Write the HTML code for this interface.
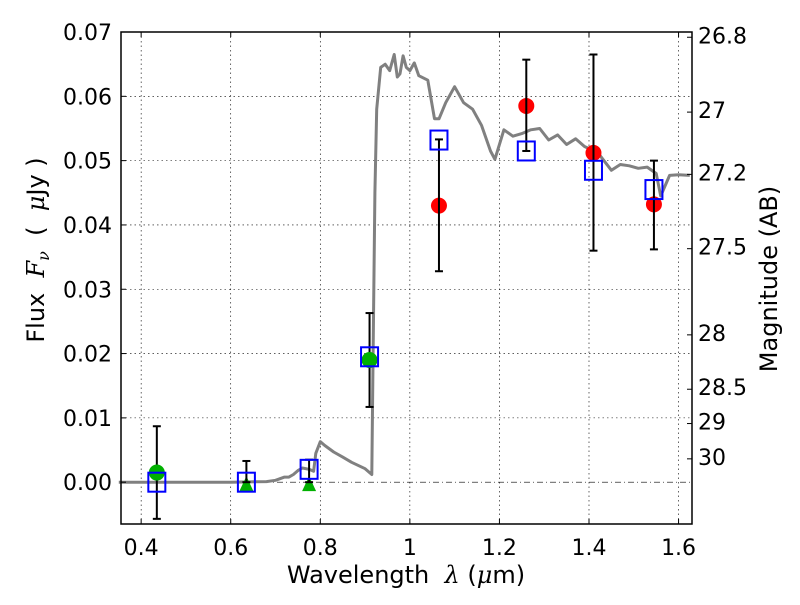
<!DOCTYPE html>
<html><head><meta charset="utf-8">
<style>
body{margin:0;background:#fff;}
svg text{font-family:"DejaVu Sans","Liberation Sans",sans-serif;}
.pre{white-space:pre;}
</style></head>
<body>
<svg id="chart" width="800" height="600" xmlns="http://www.w3.org/2000/svg">
<rect width="800" height="600" fill="#fff"/>
<g id="grid"></g>
<g id="model"></g>
<g id="marks"></g>
<g id="axes"></g>
</svg>
<script>
const xTicks=[0.4,0.6,0.8,1.0,1.2,1.4,1.6];
const xTickLabels=["0.4","0.6","0.8","1","1.2","1.4","1.6"];
const yTicks=[0,0.01,0.02,0.03,0.04,0.05,0.06,0.07];
const yTickLabels=["0.00","0.01","0.02","0.03","0.04","0.05","0.06","0.07"];
const magTicks=[26.8,27,27.2,27.5,28,28.5,29,30];
const magTickLabels=["26.8","27","27.2","27.5","28","28.5","29","30"];
const modelWave=[0.35,0.5,0.6,0.68,0.7,0.72,0.73,0.74,0.75,0.76,0.775,0.785,0.79,0.8,0.81,0.83,0.85,0.87,0.9,0.915,0.918,0.922,0.926,0.935,0.945,0.955,0.965,0.972,0.978,0.985,0.992,1.0,1.01,1.02,1.04,1.055,1.065,1.08,1.1,1.12,1.14,1.16,1.18,1.19,1.21,1.23,1.25,1.27,1.29,1.31,1.33,1.35,1.37,1.39,1.42,1.45,1.47,1.49,1.51,1.53,1.55,1.56,1.58,1.6,1.625];
const modelFlux=[0,0,0,0.0001,0.0003,0.0008,0.0008,0.0012,0.0018,0.0022,0.002,0.0017,0.0045,0.0063,0.0057,0.0047,0.0039,0.0031,0.0021,0.0012,0.02,0.045,0.058,0.0645,0.065,0.064,0.0665,0.063,0.0635,0.0663,0.0645,0.064,0.0652,0.0632,0.0625,0.0565,0.0565,0.059,0.0615,0.059,0.058,0.0555,0.0515,0.0502,0.0548,0.0538,0.0542,0.0548,0.055,0.0532,0.054,0.0525,0.0534,0.0522,0.0512,0.0485,0.0494,0.0492,0.0488,0.049,0.048,0.0445,0.0477,0.0478,0.0477];
const fitWave=[0.435,0.635,0.775,0.91,1.065,1.26,1.41,1.545];
const fitFlux=[0.0,0.0,0.002,0.0195,0.0532,0.0515,0.0485,0.0455];
const greenWave=[0.435,0.91];
const greenFlux=[0.0015,0.019];
const greenLo=[-0.0057,0.0117];
const greenHi=[0.0087,0.0263];
const triWave=[0.635,0.775];
const triFlux=[-0.0003,-0.0003];
const triLo=[0.0,0.0];
const triHi=[0.0033,0.0035];
const redWave=[1.065,1.26,1.41,1.545];
const redFlux=[0.043,0.0585,0.0512,0.0432];
const redLo=[0.0328,0.0515,0.036,0.0362];
const redHi=[0.0533,0.0657,0.0665,0.05];

const L=121,R=692,T=32,B=524;
const XMIN=0.355,XMAX=1.63,YMIN=-0.0065,YMAX=0.07;
const X=v=>L+(v-XMIN)/(XMAX-XMIN)*(R-L);
const Y=v=>B-(v-YMIN)/(YMAX-YMIN)*(B-T);
const NS="http://www.w3.org/2000/svg";
function mk(tag,parent,attrs){const e=document.createElementNS(NS,tag);for(const k in attrs)e.setAttribute(k,attrs[k]);parent.appendChild(e);return e;}
const grid=document.getElementById('grid'),model=document.getElementById('model'),marks=document.getElementById('marks'),axes=document.getElementById('axes');

xTicks.forEach((v,i)=>{
 const l=mk('line',grid,{x1:X(v),x2:X(v),y1:T,y2:B,stroke:'#000','stroke-width':0.6,'stroke-dasharray':'1.5,3'});
 
 
 mk('line',axes,{x1:X(v),x2:X(v),y1:B,y2:B-5,stroke:'#000'});
 mk('line',axes,{x1:X(v),x2:X(v),y1:T,y2:T+5,stroke:'#000'});
 const t=mk('text',axes,{x:X(v),y:B+31,'text-anchor':'middle','font-size':22});
 t.textContent=xTickLabels[i];
 
 
});
yTicks.forEach((v,i)=>{
 if(v!==0){const l=mk('line',grid,{x1:L,x2:R,y1:Y(v),y2:Y(v),stroke:'#000','stroke-width':0.6,'stroke-dasharray':'1.5,3'});
 
 }
 mk('line',axes,{x1:L,x2:L+5,y1:Y(v),y2:Y(v),stroke:'#000'});
 const t=mk('text',axes,{x:L-9,y:Y(v)+8,'text-anchor':'end','font-size':22});
 t.textContent=yTickLabels[i];
 
 
});
const z=mk('line',grid,{x1:L,x2:R,y1:Y(0),y2:Y(0),stroke:'#000','stroke-width':0.6,'stroke-dasharray':'6,3,1,3'});


magTicks.forEach((m,i)=>{
 const f=Math.pow(10,(23.9-m)/2.5);
 mk('line',axes,{x1:R,x2:R-5,y1:Y(f),y2:Y(f),stroke:'#000'});
 const t=mk('text',axes,{x:R+6,y:Y(f)+6,'font-size':22});
 t.textContent=magTickLabels[i];
 
 
});
let d='';modelWave.forEach((w,i)=>{d+=(i?'L':'M')+X(w).toFixed(1)+','+Y(modelFlux[i]).toFixed(1);});
const mp=mk('path',model,{d:d,fill:'none',stroke:'#808080','stroke-width':3,'stroke-linejoin':'round'});



function errbar(w,lo,hi){
 const g=mk('g',marks,{stroke:'#000','stroke-width':2});
 
 
 mk('line',g,{x1:X(w),x2:X(w),y1:Y(lo),y2:Y(hi)});
 mk('line',g,{x1:X(w)-4,x2:X(w)+4,y1:Y(lo),y2:Y(lo)});
 mk('line',g,{x1:X(w)-4,x2:X(w)+4,y1:Y(hi),y2:Y(hi)});
}
greenWave.forEach((w,i)=>{
 errbar(w,greenLo[i],greenHi[i]);
 const c=mk('circle',marks,{cx:X(w),cy:Y(greenFlux[i]),r:8,fill:'#00b000'});
 
 
});
triWave.forEach((w,i)=>{
 const x=X(w),y=Y(triFlux[i]);
 const p=mk('polygon',marks,{points:`${x},${y-8} ${x-7},${y+7} ${x+7},${y+7}`,fill:'#00b000'});
 
 
 errbar(w,triLo[i],triHi[i]);
});
redWave.forEach((w,i)=>{
 const c=mk('circle',marks,{cx:X(w),cy:Y(redFlux[i]),r:8,fill:'#ff0000'});
 
 
 errbar(w,redLo[i],redHi[i]);
});
fitWave.forEach((w,i)=>{
 const r=mk('rect',marks,{x:X(w)-8.5,y:Y(fitFlux[i])-9.5,width:17,height:19,fill:'none',stroke:'#0000ff','stroke-width':2});
 
 
});
const fr=mk('rect',axes,{x:L,y:T,width:R-L,height:B-T,fill:'none',stroke:'#000','stroke-width':1.5});


const xl=mk('text',axes,{x:406,y:583,'text-anchor':'middle','font-size':24,class:'pre'});
xl.innerHTML='Wavelength  <tspan font-family="DejaVu Serif" font-style="italic">λ</tspan> (<tspan font-family="DejaVu Serif" font-style="italic">μ</tspan>m)';


const yl=mk('text',axes,{x:0,y:0,'text-anchor':'middle','font-size':24,transform:'translate(44,250) rotate(-90)',class:'pre'});
yl.innerHTML='Flux  <tspan font-family="DejaVu Serif" font-style="italic">F<tspan font-size="16" dy="5">ν</tspan></tspan><tspan dy="-5">  (  </tspan><tspan font-family="DejaVu Serif" font-style="italic">μ</tspan>Jy )';


const ml=mk('text',axes,{x:0,y:0,'text-anchor':'middle','font-size':24,transform:'translate(777,279) rotate(-90)'});
ml.textContent='Magnitude (AB)';


</script>
</body></html>
